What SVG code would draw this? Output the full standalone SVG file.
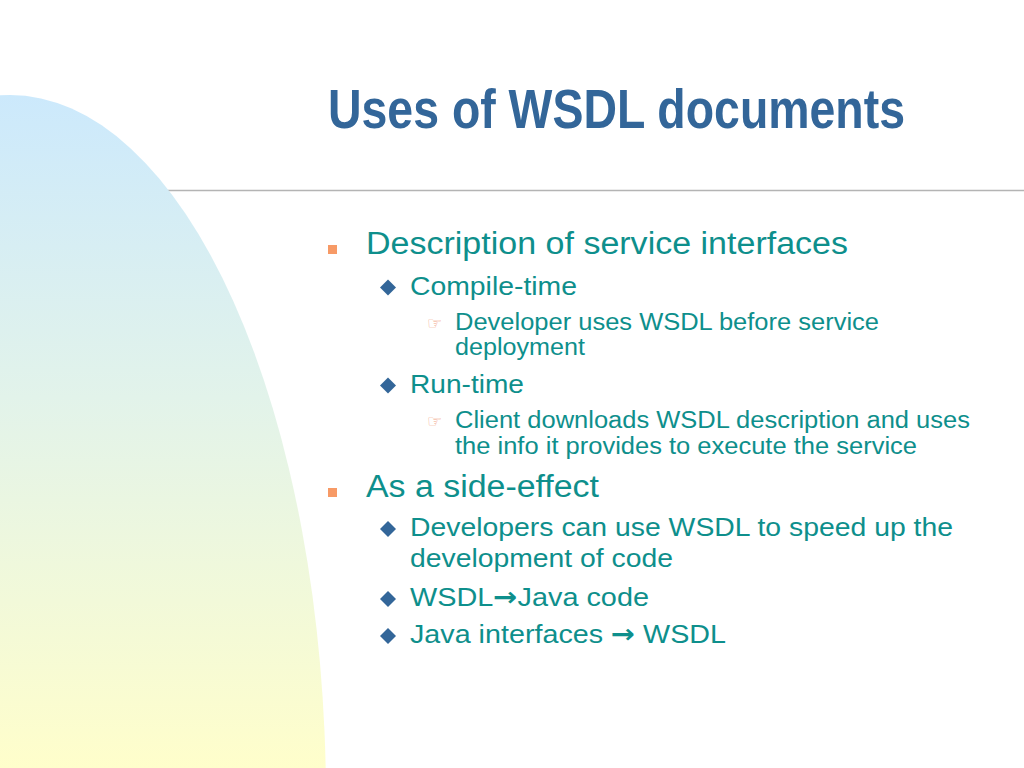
<svg xmlns="http://www.w3.org/2000/svg" width="1024" height="768" viewBox="0 0 1024 768">
<defs>
<linearGradient id="bg" gradientUnits="userSpaceOnUse" x1="0" y1="95" x2="0" y2="768">
<stop offset="0" stop-color="#cce9fc"/>
<stop offset="0.45" stop-color="#e2f3ea"/>
<stop offset="1" stop-color="#fffecb"/>
</linearGradient>
</defs>
<style>
text{font-family:"Liberation Sans",Arial,sans-serif}
.t{fill:#0e8f8c}
.l1{font-size:31px}
.l2{font-size:26px}
.l3{font-size:23px}
.sq{fill:#f79a66}
.dm{fill:#336699}
.ar{font-family:"DejaVu Sans",sans-serif;font-weight:bold}
.hand{font-family:"DejaVu Sans",sans-serif;font-size:17px;fill:#f2a385}
</style>
<rect width="1024" height="768" fill="#ffffff"/>
<line x1="0" y1="190.5" x2="1024" y2="190.5" stroke="#b4b4b4" stroke-width="1.5"/>
<ellipse cx="10" cy="800" rx="316" ry="705" fill="url(#bg)"/>
<g id="title">
<text x="328" y="128" font-size="56" font-weight="bold" fill="#336699" textLength="577" lengthAdjust="spacingAndGlyphs">Uses of WSDL documents</text>
</g>
<g id="item1">
<rect class="sq" x="328" y="245" width="9" height="9"/>
<text class="t l1" x="366" y="254" textLength="482" lengthAdjust="spacingAndGlyphs">Description of service interfaces</text>
</g>
<g id="item1a">
<path class="dm" d="M388 279.5 L396 287.5 L388 295.5 L380 287.5 Z"/>
<text class="t l2" x="410" y="295" textLength="167" lengthAdjust="spacingAndGlyphs">Compile-time</text>
</g>
<g id="item1a1">
<text class="hand" x="427" y="329">☞</text>
<text class="t l3" x="455" y="330" textLength="424" lengthAdjust="spacingAndGlyphs">Developer uses WSDL before service</text>
<text class="t l3" x="455" y="355" textLength="130" lengthAdjust="spacingAndGlyphs">deployment</text>
</g>
<g id="item1b">
<path class="dm" d="M388 377.5 L396 385.5 L388 393.5 L380 385.5 Z"/>
<text class="t l2" x="410" y="393" textLength="114" lengthAdjust="spacingAndGlyphs">Run-time</text>
</g>
<g id="item1b1">
<text class="hand" x="427" y="427">☞</text>
<text class="t l3" x="455" y="428" textLength="515" lengthAdjust="spacingAndGlyphs">Client downloads WSDL description and uses</text>
<text class="t l3" x="455" y="454" textLength="462" lengthAdjust="spacingAndGlyphs">the info it provides to execute the service</text>
</g>
<g id="item2">
<rect class="sq" x="328" y="488" width="9" height="9"/>
<text class="t l1" x="366" y="497" textLength="233" lengthAdjust="spacingAndGlyphs">As a side-effect</text>
</g>
<g id="item2a">
<path class="dm" d="M388 521 L396 529 L388 537 L380 529 Z"/>
<text class="t l2" x="410" y="536" textLength="543" lengthAdjust="spacingAndGlyphs">Developers can use WSDL to speed up the</text>
<text class="t l2" x="410" y="567" textLength="263" lengthAdjust="spacingAndGlyphs">development of code</text>
</g>
<g id="item2b">
<path class="dm" d="M388 591 L396 599 L388 607 L380 599 Z"/>
<text class="t l2" x="410" y="606" textLength="239" lengthAdjust="spacingAndGlyphs">WSDL<tspan class="ar">→</tspan>Java code</text>
</g>
<g id="item2c">
<path class="dm" d="M388 628 L396 636 L388 644 L380 636 Z"/>
<text class="t l2" x="410" y="643" textLength="316" lengthAdjust="spacingAndGlyphs">Java interfaces <tspan class="ar">→</tspan> WSDL</text>
</g>
</svg>
